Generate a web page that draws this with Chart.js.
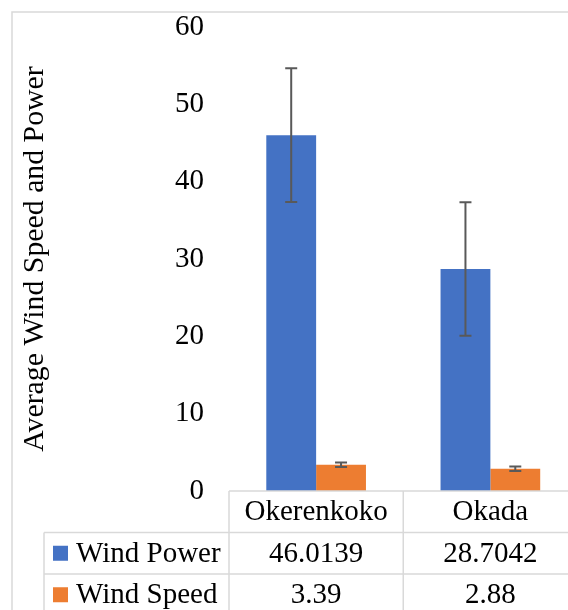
<!DOCTYPE html>
<html lang="en">
<head>
	<title>Average Wind Speed and Power</title>
	<script src="https://cdn.jsdelivr.net/npm/chart.js"></script>
	<style>
		html, body {
			margin: 0;
			padding: 0;
			overflow: hidden;
			background: #fff;
		}
		.chart-box {
			width: 600px;
			height: 640px;
		}
	</style>
</head>
<body>
<div class="chart-box">
	<canvas id="windChart" width="600" height="640"></canvas>
</div>

<script>
	const categories = ['Okerenkoko', 'Okada'];
	const windPower = [46.0139, 28.7042];
	const windSpeed = [3.39, 2.88];
	const windPowerErr = [8.64, 8.64];
	const windSpeedErr = [0.3, 0.28];
	const seriesNames = ['Wind Power', 'Wind Speed'];
	const seriesColors = ['#4472C4', '#ED7D31'];

	const serif = "'Liberation Serif', 'Times New Roman', serif";
	const lineGray = '#d9d9d9';

	// error bars drawn on top of each bar
	const errorBars = {
		id: 'errorBars',
		afterDatasetsDraw(chart) {
			const ctx = chart.ctx;
			const y = chart.scales.y;
			const errs = [windPowerErr, windSpeedErr];
			ctx.save();
			ctx.strokeStyle = '#595959';
			ctx.lineWidth = 2;
			chart.data.datasets.forEach((ds, di) => {
				chart.getDatasetMeta(di).data.forEach((bar, i) => {
					const v = ds.data[i];
					const top = y.getPixelForValue(v + errs[di][i]);
					const bot = y.getPixelForValue(v - errs[di][i]);
					ctx.beginPath();
					ctx.moveTo(bar.x, top);
					ctx.lineTo(bar.x, bot);
					ctx.moveTo(bar.x - 6, top);
					ctx.lineTo(bar.x + 6, top);
					ctx.moveTo(bar.x - 6, bot);
					ctx.lineTo(bar.x + 6, bot);
					ctx.stroke();
				});
			});
			ctx.restore();
		}
	};

	// outer frame + data table under the plot
	const dataTable = {
		id: 'dataTable',
		afterDraw(chart) {
			const ctx = chart.ctx;
			const x = chart.scales.x;
			const area = chart.chartArea;
			const rowH = 41.5;
			const top = area.bottom;
			const half = (area.right - area.left) / categories.length / 2;
			const legendLeft = 44;
			const far = chart.width + 20;

			ctx.save();
			ctx.strokeStyle = lineGray;
			ctx.lineWidth = 1.5;
			ctx.strokeRect(12, 12, far, far);

			ctx.beginPath();
			// header row
			ctx.moveTo(area.left, top);
			ctx.lineTo(far, top);
			ctx.moveTo(area.left, top);
			ctx.lineTo(area.left, far);
			// row lines
			for (let r = 1; r <= seriesNames.length; r++) {
				ctx.moveTo(legendLeft, top + rowH * r);
				ctx.lineTo(far, top + rowH * r);
			}
			ctx.moveTo(legendLeft, top + rowH);
			ctx.lineTo(legendLeft, far);
			categories.forEach((c, i) => {
				const cx = x.getPixelForValue(i) + half;
				ctx.moveTo(cx, top);
				ctx.lineTo(cx, far);
			});
			ctx.stroke();

			ctx.fillStyle = '#000';
			ctx.font = '29px ' + serif;
			ctx.textBaseline = 'middle';
			ctx.textAlign = 'center';
			categories.forEach((c, i) => {
				const cx = x.getPixelForValue(i);
				ctx.fillText(c, cx, top + rowH / 2 + 1);
				ctx.fillText(String(windPower[i]), cx, top + rowH * 1.5 + 1);
				ctx.fillText(String(windSpeed[i]), cx, top + rowH * 2.5 + 1);
			});

			ctx.textAlign = 'left';
			seriesNames.forEach((name, r) => {
				const cy = top + rowH * (r + 1.5);
				ctx.fillStyle = seriesColors[r];
				ctx.fillRect(53, cy - 7.5, 15, 15);
				ctx.fillStyle = '#000';
				ctx.fillText(name, 76, cy + 1);
			});
			ctx.restore();
		}
	};

	const ctx = document.getElementById('windChart').getContext('2d');
	new Chart(ctx, {
		type: 'bar',
		data: {
			labels: categories,
			datasets: [{
				label: seriesNames[0],
				data: windPower,
				backgroundColor: seriesColors[0]
			}, {
				label: seriesNames[1],
				data: windSpeed,
				backgroundColor: seriesColors[1]
			}]
		},
		options: {
			responsive: false,
			animation: false,
			devicePixelRatio: 1,
			categoryPercentage: 0.572,
			barPercentage: 1,
			layout: {
				padding: { left: 0, top: 27, right: 22.5, bottom: 149 }
			},
			plugins: {
				legend: { display: false },
				tooltip: { enabled: false }
			},
			scales: {
				x: { display: false },
				y: {
					min: 0,
					max: 60,
					afterFit(scale) {
						scale.width = 229;
						scale.paddingTop = 0;
						scale.paddingBottom = 0;
					},
					grid: { display: false, drawTicks: false },
					border: { display: false },
					ticks: {
						stepSize: 10,
						padding: 25,
						color: '#000',
						font: { family: serif, size: 29 }
					},
					title: {
						display: true,
						text: 'Average Wind Speed and Power',
						color: '#000',
						padding: { top: 17.4, bottom: 0 },
						font: { family: serif, size: 29.8 }
					}
				}
			}
		},
		plugins: [errorBars, dataTable]
	});
</script>
</body>
</html>
